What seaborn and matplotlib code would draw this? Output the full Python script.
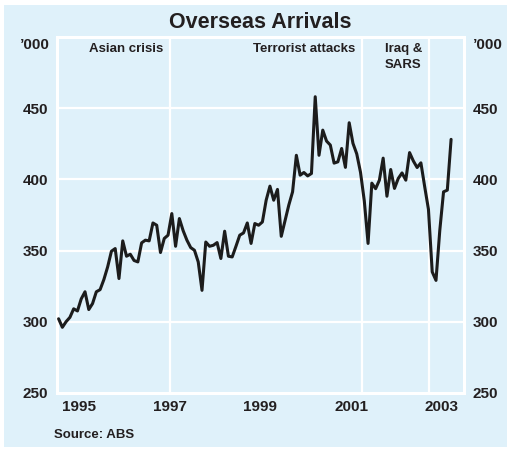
import numpy as np
import pandas as pd
import matplotlib
matplotlib.use("Agg")
import matplotlib.pyplot as plt
from matplotlib.patches import Rectangle
from matplotlib.ticker import FixedLocator, NullFormatter, FixedFormatter
import seaborn as sns

# ---------------- data ----------------
start_year = 1995
start_month = 1
arrivals = [
    302, 296, 300, 303, 309, 307.5, 316, 321, 308.5, 312.7, 321, 322.5,      # 1995
    329.6, 338.5, 349.5, 351.4, 330.3, 356.8, 346, 347.4, 343, 342, 355.4, 357.3,  # 1996
    356.8, 369.4, 367.8, 348.6, 358.5, 360.8, 376, 353, 372.5, 364, 357.3, 352.1,  # 1997
    350.2, 342, 322, 356, 353, 353.7, 355.6, 344.4, 363.6, 346, 345.5, 353,  # 1998
    360.8, 362.4, 369.4, 355, 369, 367.8, 370.1, 385.4, 395.3, 385.4, 393, 360,  # 1999
    371, 382, 391.3, 417, 403, 404.9, 402.5, 404.2, 458.2, 417, 434.7, 427,  # 2000
    424.2, 411.5, 412.4, 421.8, 408.5, 439.9, 425.4, 418, 405, 385, 355, 397.4,  # 2001
    393.5, 399.5, 415, 388.2, 407, 393.7, 400.7, 404.6, 399.5, 418.9, 413, 408.4,  # 2002
    411.7, 395, 379, 335, 329, 364, 391.3, 392.5, 428.2,                       # 2003
]
y_ticks = [250, 300, 350, 400, 450]
year_labels = ["1995", "1997", "1999", "2001", "2003"]
year_label_pos = [1995.5, 1997.5, 1999.5, 2001.5, 2003.5]
year_boundaries = [1996, 1997, 1998, 1999, 2000, 2001, 2002, 2003]
events = [1997.5, 2001.745, 2003.226]
event_labels = ["Asian crisis", "Terrorist attacks", "Iraq &\nSARS"]
title = "Overseas Arrivals"
unit = "\u2019000"
source = "Source: ABS"

months = np.arange(len(arrivals))
xpos = start_year + (start_month - 1 + months + 0.5) / 12.0
df = pd.DataFrame({"date": xpos, "arrivals": arrivals})

# ---------------- style ----------------
BG = "#dff1fa"
TXT = "#231f20"
LINE = "#1c1c1c"

sns.set_style("white", {"axes.facecolor": BG, "axes.edgecolor": "white"})
plt.rcParams["font.family"] = ["Liberation Sans", "DejaVu Sans"]
plt.rcParams["font.weight"] = "bold"

W, H = 511, 449
fig = plt.figure(figsize=(W / 100, H / 100), dpi=100)
fig.patch.set_facecolor("white")
fig.patches.append(Rectangle((4 / W, 2 / H), (507 - 4) / W, (446 - 4) / H,
                             transform=fig.transFigure, facecolor=BG,
                             edgecolor="none", zorder=-10))

L, R, T, B = 56.7, 464.3, 37.3, 392.7
ax = fig.add_axes([L / W, (H - B) / H, (R - L) / W, (B - T) / H])
ax.set_zorder(5)
ax.set_facecolor(BG)

# grid lines
for yv in y_ticks[1:]:
    ax.axhline(yv, color="white", lw=1.6, zorder=1)
for ev in events:
    ax.axvline(ev, color="white", lw=1.6, zorder=1)

sns.lineplot(data=df, x="date", y="arrivals", ax=ax, color=LINE, lw=2.2,
             zorder=3, legend=False)

ax.set_xlim(1995.0, 2004.0)
ax.set_ylim(250, 500)
ax.set_xlabel("")
ax.set_ylabel("")

for s in ax.spines.values():
    s.set_color("white")
    s.set_linewidth(2.2)
    s.set_visible(True)

ax.set_yticks(y_ticks)
ax.set_yticklabels([str(v) for v in y_ticks])
ax.tick_params(axis="y", length=0, labelleft=True, labelright=True,
               labelsize=11, labelcolor=TXT, pad=6)

ax.xaxis.set_major_locator(FixedLocator(year_boundaries))
ax.xaxis.set_major_formatter(NullFormatter())
ax.xaxis.set_minor_locator(FixedLocator(year_label_pos))
ax.xaxis.set_minor_formatter(FixedFormatter(year_labels))
ax.tick_params(axis="x", which="major", direction="in", length=7, width=1.5,
               color="white")
ax.tick_params(axis="x", which="minor", length=0, labelsize=11,
               labelcolor=TXT, pad=5)
for lab in ax.get_xticklabels(minor=True) + ax.get_yticklabels():
    lab.set_fontweight("bold")

# event labels
for ev, lab in zip(events, event_labels):
    ax.annotate(lab, xy=(ev, 500), xycoords="data", xytext=(-7, -6),
                textcoords="offset pixels", ha="right", va="top",
                multialignment="left", fontsize=9.5, fontweight="bold",
                color=TXT, linespacing=1.45, zorder=4)

# title and texts
fig.text(260 / W, (H - 28.3) / H, title, ha="center", va="baseline",
         fontsize=15.5, fontweight="bold", color=TXT)
fig.text(50 / W, (H - 49) / H, unit, ha="right", va="baseline",
         fontsize=11, fontweight="bold", color=TXT)
fig.text(472.5 / W, (H - 49) / H, unit, ha="left", va="baseline",
         fontsize=11, fontweight="bold", color=TXT)
fig.text(54.3 / W, (H - 438.3) / H, source, ha="left", va="baseline",
         fontsize=9.5, fontweight="bold", color=TXT)

fig.savefig("out.png", dpi=100, facecolor=fig.get_facecolor())
